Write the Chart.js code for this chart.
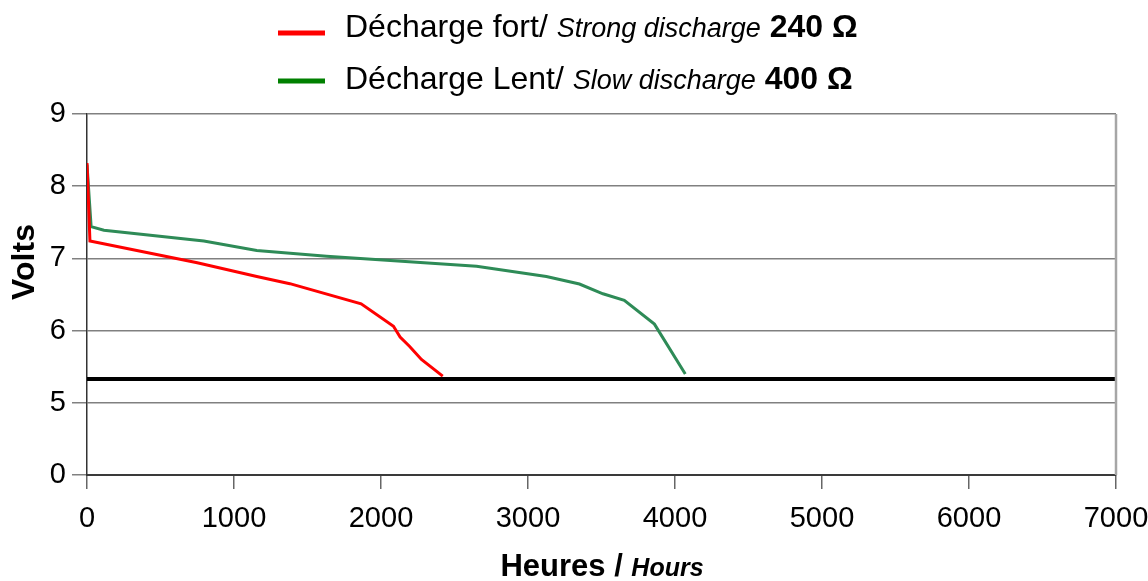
<!DOCTYPE html>
<html>
<head>
<meta charset="utf-8">
<script src="https://cdn.jsdelivr.net/npm/chart.js@4.4.0/dist/chart.umd.min.js"></script>
<style>
  html, body { margin: 0; padding: 0; background: #fff; }
  #wrap { width: 1148px; height: 581px; }
</style>
</head>
<body>
<div id="wrap"><canvas id="chart" width="1148" height="581"></canvas></div>
<script>
// Readings from the reference (hours, volts)
const strongHours = [0, 20, 750, 1155, 1380, 1865, 2085, 2130, 2195, 2275, 2420];
const strongVolts = [8.32, 7.24, 6.94, 6.75, 6.65, 6.37, 6.06, 5.91, 5.78, 5.60, 5.37];

const slowHours = [0, 28, 115, 795, 1155, 1630, 2650, 3125, 3350, 3510, 3655, 3860, 4070];
const slowVolts = [8.30, 7.44, 7.39, 7.24, 7.11, 7.03, 6.89, 6.75, 6.645, 6.51, 6.42, 6.09, 5.40];

// cut-off voltage line
const cutoffHours = [0, 7000];
const cutoffVolts = [5.33, 5.33];

// y axis is broken: the bottom tick stands for 0
const yTickValues = [4, 5, 6, 7, 8, 9];
const yTickLabels = ["0", "5", "6", "7", "8", "9"];

const legendFr = ["Décharge fort/ ", "Décharge Lent/ "];
const legendEn = ["Strong discharge", "Slow discharge"];
const legendOhm = [" 240 Ω", " 400 Ω"];
const legendColors = ["#ff0000", "#008000"];

const FONT = "Arial, 'Liberation Sans', sans-serif";

function toPoints(xs, ys) {
  return xs.map((x, i) => ({ x: x, y: ys[i] }));
}

function drawRuns(ctx, runs, x, y, align) {
  let total = 0;
  runs.forEach(r => {
    ctx.font = r.font;
    total += ctx.measureText(r.text).width;
  });
  let cx = align === "center" ? x - total / 2 : x;
  runs.forEach(r => {
    ctx.font = r.font;
    ctx.fillText(r.text, cx, y);
    cx += ctx.measureText(r.text).width;
  });
}

// Legend, axis titles and right border
const decorations = {
  id: "decorations",
  afterDraw(chart) {
    const { ctx, chartArea } = chart;
    ctx.save();

    // right frame line
    ctx.strokeStyle = "#a6a6a6";
    ctx.lineWidth = 2.5;
    ctx.beginPath();
    ctx.moveTo(chartArea.right, chartArea.top);
    ctx.lineTo(chartArea.right, chartArea.bottom);
    ctx.stroke();

    ctx.fillStyle = "#000";
    ctx.textBaseline = "alphabetic";
    ctx.textAlign = "left";

    // legend
    const rows = [37, 89];
    const samples = [33, 81];
    rows.forEach((base, i) => {
      ctx.strokeStyle = legendColors[i];
      ctx.lineWidth = 5;
      ctx.beginPath();
      ctx.moveTo(278, samples[i]);
      ctx.lineTo(325, samples[i]);
      ctx.stroke();
      drawRuns(ctx, [
        { text: legendFr[i], font: "32px " + FONT },
        { text: legendEn[i], font: "italic 27px " + FONT },
        { text: legendOhm[i], font: "bold 32px " + FONT },
      ], 345, base, "left");
    });

    // x title
    drawRuns(ctx, [
      { text: "Heures / ", font: "bold 31px " + FONT },
      { text: "Hours", font: "italic bold 25px " + FONT },
    ], 602, 576, "center");

    // y title
    ctx.translate(34, 262);
    ctx.rotate(-Math.PI / 2);
    ctx.textAlign = "center";
    ctx.font = "bold 32px " + FONT;
    ctx.fillText("Volts", 0, 0);

    ctx.restore();
  },
};

new Chart(document.getElementById("chart"), {
  type: "line",
  data: {
    datasets: [
      {
        label: "Strong discharge 240 Ω",
        data: toPoints(strongHours, strongVolts),
        borderColor: "#ff0000",
        borderWidth: 3,
        pointRadius: 0,
        tension: 0,
        order: 1,
      },
      {
        label: "Slow discharge 400 Ω",
        data: toPoints(slowHours, slowVolts),
        borderColor: "#2e8b57",
        borderWidth: 3,
        pointRadius: 0,
        tension: 0,
        order: 2,
      },
      {
        label: "cut-off",
        data: toPoints(cutoffHours, cutoffVolts),
        borderColor: "#000000",
        borderWidth: 4,
        pointRadius: 0,
        order: 3,
      },
    ],
  },
  options: {
    responsive: false,
    animation: false,
    layout: { padding: { top: 114, right: 32, left: 0, bottom: 0 } },
    plugins: {
      legend: { display: false },
      tooltip: { enabled: false },
    },
    scales: {
      x: {
        type: "linear",
        min: 0,
        max: 7000,
        afterFit: (scale) => {
          scale.height = 106;
          scale.paddingRight = 0;
          scale.paddingLeft = 0;
        },
        ticks: {
          stepSize: 1000,
          autoSkip: false,
          maxRotation: 0,
          padding: 13,
          color: "#000",
          font: { family: FONT, size: 29 },
          callback: (value) => String(value),
        },
        grid: {
          drawOnChartArea: false,
          tickLength: 14,
          color: "#666",
          lineWidth: 1.5,
        },
        border: { color: "#3a3a3a", width: 2 },
      },
      y: {
        min: 4,
        max: 9,
        afterFit: (scale) => {
          scale.width = 87;
          scale.paddingTop = 0;
          scale.paddingBottom = 0;
        },
        afterBuildTicks: (scale) => {
          scale.ticks = yTickValues.map(v => ({ value: v }));
        },
        ticks: {
          padding: 6,
          color: "#000",
          font: { family: FONT, size: 29 },
          callback: (value) => yTickLabels[yTickValues.indexOf(value)],
        },
        grid: {
          color: "#808080",
          lineWidth: 1.5,
          tickLength: 15,
        },
        border: { color: "#333", width: 1.5 },
      },
    },
  },
  plugins: [decorations],
});
</script>
</body>
</html>
